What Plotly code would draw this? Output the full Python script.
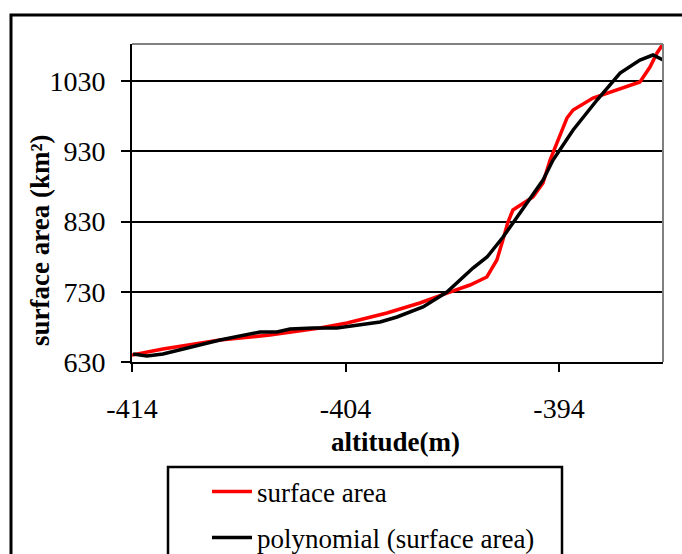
import plotly.graph_objects as go

# surface area (red)
alt_red = [-414.0, -412.55, -409.88, -407.54, -405.2, -403.93, -402.06, -400.52, -399.25,
           -398.17, -397.38, -396.91, -396.63, -396.39, -396.16, -395.69, -395.22, -394.75,
           -394.42, -393.63, -393.34, -392.41, -391.28, -390.21, -389.74, -389.41, -389.13]
area_red = [640.0, 648.5, 661.3, 668.4, 678.4, 685.5, 699.8, 714.0, 728.2,
            739.6, 751.0, 775.2, 803.7, 829.3, 846.4, 856.3, 864.9, 884.8,
            917.5, 977.3, 988.7, 1005.8, 1017.2, 1028.6, 1049.9, 1069.9, 1082.7]

# polynomial (surface area) (black)
alt_poly = [-413.95, -413.3, -412.55, -411.42, -409.88, -408.0, -407.21, -406.6, -405.52,
            -404.4, -403.65, -402.38, -401.59, -400.37, -399.25, -398.03, -397.37, -396.62,
            -395.83, -394.75, -394.28, -393.34, -392.22, -391.14, -390.21, -389.6, -389.13]
area_poly = [641.4, 638.5, 641.4, 649.9, 661.3, 672.7, 672.7, 677.0, 678.4,
             678.4, 681.2, 686.9, 694.1, 708.3, 729.6, 763.8, 779.5, 807.9,
             842.1, 889.1, 917.5, 960.3, 1003.0, 1041.4, 1059.9, 1067.0, 1059.9]

x_ticks = [-414, -404, -394]
y_ticks = [630, 730, 830, 930, 1030]

FONT = "Liberation Serif"

fig = go.Figure()
fig.add_trace(go.Scatter(x=alt_red, y=area_red, mode="lines", name="surface area",
                         line=dict(color="#ff0000", width=3.5), legend="legend"))
fig.add_trace(go.Scatter(x=alt_poly, y=area_poly, mode="lines", name="polynomial (surface area)",
                         line=dict(color="#000000", width=3.5), legend="legend2"))

W, H = 682, 554
L, R, T, B = 132, 19, 44, 192
pw, ph = W - L - R, H - T - B

def px(x):
    return (x - L) / pw

def py(y):
    return (H - B - y) / ph

fig.update_layout(
    width=W, height=H,
    margin=dict(l=L, r=R, t=T, b=B, autoexpand=False),
    paper_bgcolor="white", plot_bgcolor="white",
    font=dict(family=FONT, size=28, color="black"),
    xaxis=dict(range=[-414, -389.13], tickmode="array", tickvals=x_ticks,
               ticktext=[str(v) for v in x_ticks],
               showgrid=False, zeroline=False, showline=True, linecolor="black", linewidth=2,
               ticks="outside", ticklen=8, tickwidth=2, tickcolor="black",
               ticklabelstandoff=12, tickfont=dict(family=FONT, size=28)),
    yaxis=dict(range=[630, 1082.7], tickmode="array", tickvals=y_ticks,
               ticktext=[str(v) for v in y_ticks],
               showgrid=True, gridcolor="black", gridwidth=1.5, zeroline=False,
               showline=True, linecolor="black", linewidth=2,
               ticks="outside", ticklen=9, tickwidth=2, tickcolor="black",
               ticklabelstandoff=10, tickfont=dict(family=FONT, size=28)),
    showlegend=True,
    legend=dict(x=px(207), y=py(492), xanchor="left", yanchor="middle",
                bgcolor="rgba(0,0,0,0)", borderwidth=0, itemwidth=40,
                font=dict(family=FONT, size=27)),
    legend2=dict(x=px(207), y=py(538), xanchor="left", yanchor="middle",
                 bgcolor="rgba(0,0,0,0)", borderwidth=0, itemwidth=40,
                 font=dict(family=FONT, size=27)),
    shapes=[
        # outer chart border
        dict(type="rect", xref="paper", yref="paper", x0=px(11), x1=px(720), y0=py(15), y1=py(600),
             line=dict(color="black", width=3), layer="below"),
        # gray top and right plot-area border
        dict(type="line", xref="paper", yref="paper", x0=0, x1=1, y0=1, y1=1,
             line=dict(color="#808080", width=2)),
        dict(type="line", xref="paper", yref="paper", x0=1, x1=1, y0=0, y1=1,
             line=dict(color="#808080", width=2)),
        # legend box
        dict(type="rect", xref="paper", yref="paper", x0=px(168), x1=px(562), y0=py(467), y1=py(600),
             line=dict(color="black", width=2.5)),
    ],
    annotations=[
        dict(text="<b>surface area (km²)</b>", xref="paper", yref="paper",
             x=px(40), y=py(240), textangle=-90, showarrow=False,
             xanchor="center", yanchor="middle", font=dict(family=FONT, size=27)),
        dict(text="<b>altitude(m)</b>", xref="paper", yref="paper",
             x=px(395), y=py(442), showarrow=False,
             xanchor="center", yanchor="middle", font=dict(family=FONT, size=27)),
    ],
)

fig.write_html("out.html", config={"displayModeBar": False},
               post_script="document.body.style.margin='0';document.body.style.padding='0';")
